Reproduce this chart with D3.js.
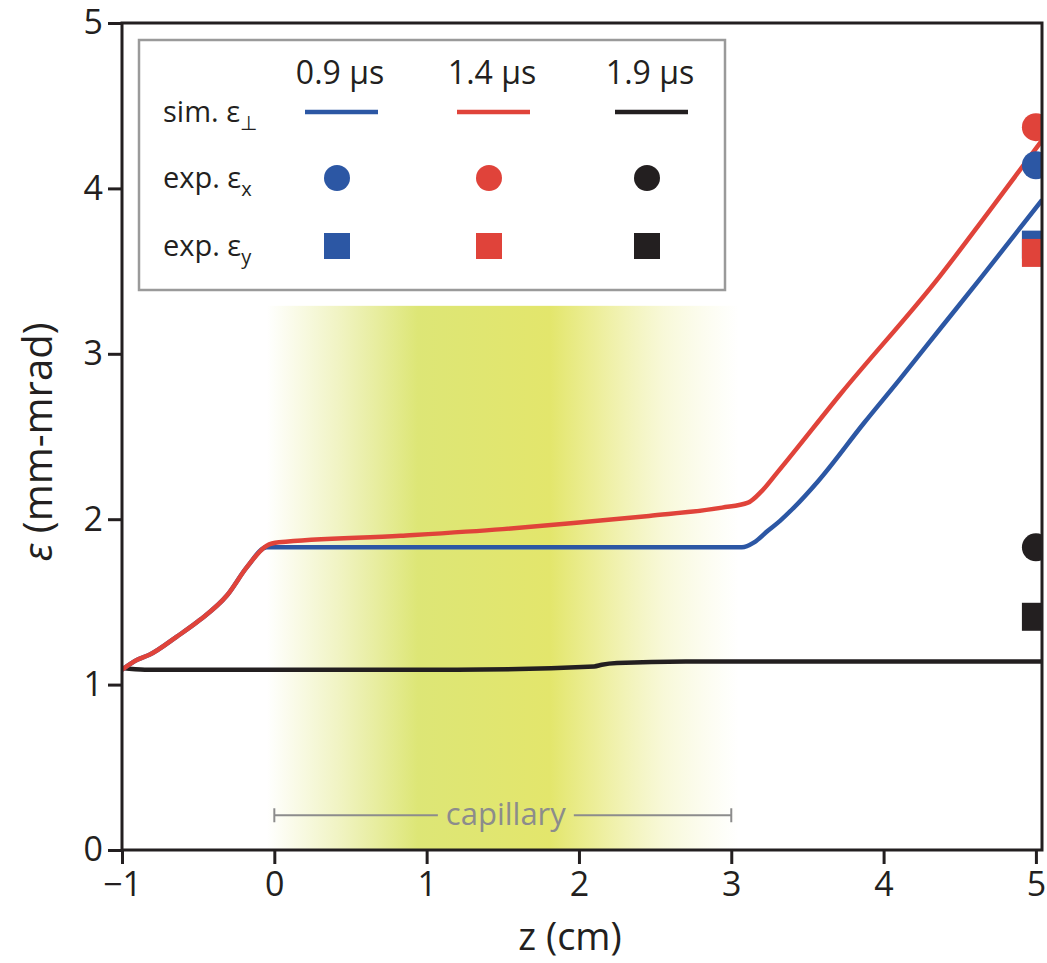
<!DOCTYPE html>
<html>
<head>
<meta charset="utf-8">
<script src="https://cdn.jsdelivr.net/npm/d3@7"></script>
<style>
    body { margin: 0; background: #fff; }
    text { font-family: "Open Sans", "Noto Sans", sans-serif; fill: #231f20; }
</style>
</head>
<body>
<svg class="chart"></svg>
<script>
// simulated emittance, one curve per delay
var delays = ["0.9 \u03bcs", "1.4 \u03bcs", "1.9 \u03bcs"];
var seriesColors = ["#2c57a4", "#e0433a", "#231f20"];

var zBlue = [-1, -0.9, -0.82, -0.64, -0.49, -0.31, -0.18, -0.05, 0.1, 1, 2, 3.07, 3.15, 3.24, 3.32, 3.4, 3.57, 3.87, 4.11, 4.37, 4.64, 5.04];
var epsBlue = [1.09, 1.15, 1.18, 1.29, 1.39, 1.54, 1.71, 1.83, 1.83, 1.83, 1.83, 1.83, 1.86, 1.93, 1.99, 2.06, 2.23, 2.58, 2.85, 3.15, 3.46, 3.93];

var zRed = [-1, -0.9, -0.82, -0.64, -0.49, -0.31, -0.18, -0.05, 0.03, 0.83, 1.5, 2.0, 2.46, 2.94, 3.11, 3.2, 3.3, 3.72, 4.37, 4.7, 5.04];
var epsRed = [1.09, 1.15, 1.18, 1.29, 1.39, 1.54, 1.71, 1.84, 1.86, 1.9, 1.94, 1.98, 2.02, 2.07, 2.1, 2.17, 2.28, 2.76, 3.47, 3.87, 4.29];

var zBlack = [-1, -0.85, -0.5, 1.2, 2.1, 2.15, 2.25, 2.7, 5.04];
var epsBlack = [1.1, 1.09, 1.09, 1.09, 1.11, 1.12, 1.13, 1.14, 1.14];

// measured values at the screen, z = 5 cm
var expZ = 5;
var expEpsX = [4.14, 4.37, 1.83];
var expEpsY = [3.66, 3.61, 1.41];

var xTicks = [-1, 0, 1, 2, 3, 4, 5];
var yTicks = [0, 1, 2, 3, 4, 5];
var capillaryStart = 0;
var capillaryEnd = 3;

drawChart();

function drawChart() {
    var outerSize = {width: 1047, height: 963};
    var margin = {top: 23, right: 5, bottom: 113, left: 122};
    var innerSize = {width: outerSize.width - margin.left - margin.right,
        height: outerSize.height - margin.top - margin.bottom};

    var svg = d3.select(".chart")
            .attr("width", outerSize.width)
            .attr("height", outerSize.height);
    var chart = svg.append("g")
            .attr("transform", "translate(" + margin.left + "," + margin.top + ")");

    var xRange = d3.scaleLinear()
            .domain([-1, 5.04])
            .range([0, innerSize.width]);
    var yRange = d3.scaleLinear()
            .domain([0, 5])
            .range([innerSize.height, 0]);

    var defs = svg.append("defs");
    defs.append("clipPath")
            .attr("id", "plotClip")
            .append("rect")
            .attr("width", innerSize.width)
            .attr("height", innerSize.height);

    // yellow band behind the capillary
    var grad = defs.append("linearGradient")
            .attr("id", "capGlow")
            .attr("x1", "0").attr("x2", "1").attr("y1", "0").attr("y2", "0");
    var glowStops = [[0, "#dfe67c", 0], [0.15, "#dfe67c", 0.45], [0.32, "#dde676", 1],
        [0.6, "#e3e66c", 1], [0.7, "#e5e770", 0.7], [0.84, "#e8ea85", 0.32], [1, "#eef0a0", 0]];
    grad.selectAll("stop")
            .data(glowStops)
            .enter().append("stop")
            .attr("offset", function (d) { return d[0]; })
            .attr("stop-color", function (d) { return d[1]; })
            .attr("stop-opacity", function (d) { return d[2]; });
    chart.append("rect")
            .attr("x", xRange(capillaryStart - 0.05))
            .attr("width", xRange(capillaryEnd + 0.05) - xRange(capillaryStart - 0.05))
            .attr("y", yRange(3.29))
            .attr("height", innerSize.height - yRange(3.29))
            .attr("fill", "url(#capGlow)");

    // capillary marker
    var capY = yRange(0.21);
    var capColor = "#8c8c8c";
    var capLabel = chart.append("text")
            .attr("x", xRange(1.52))
            .attr("y", capY)
            .attr("dy", "0.3em")
            .style("text-anchor", "middle")
            .style("font-size", "31px")
            .style("fill", capColor)
            .text("capillary");
    var labelWidth = capLabel.node().getComputedTextLength();
    var gapLeft = xRange(1.52) - labelWidth / 2 - 8;
    var gapRight = xRange(1.52) + labelWidth / 2 + 8;
    chart.append("line")
            .attr("x1", xRange(capillaryStart)).attr("x2", gapLeft)
            .attr("y1", capY).attr("y2", capY)
            .attr("stroke", capColor).attr("stroke-width", 2);
    chart.append("line")
            .attr("x1", gapRight).attr("x2", xRange(capillaryEnd))
            .attr("y1", capY).attr("y2", capY)
            .attr("stroke", capColor).attr("stroke-width", 2);
    [capillaryStart, capillaryEnd].forEach(function (z) {
        chart.append("line")
                .attr("x1", xRange(z)).attr("x2", xRange(z))
                .attr("y1", capY - 7).attr("y2", capY + 7)
                .attr("stroke", capColor).attr("stroke-width", 2);
    });

    // simulation curves
    var sims = [
        {z: zBlue, eps: epsBlue},
        {z: zRed, eps: epsRed},
        {z: zBlack, eps: epsBlack}
    ];
    var line = d3.line()
            .x(function (d) { return xRange(d[0]); })
            .y(function (d) { return yRange(d[1]); })
            .curve(d3.curveMonotoneX);
    var plot = chart.append("g").attr("clip-path", "url(#plotClip)");
    // black first so blue and red sit on top of it
    [2, 0, 1].forEach(function (i) {
        var pts = sims[i].z.map(function (z, j) { return [z, sims[i].eps[j]]; });
        plot.append("path")
                .attr("d", line(pts))
                .attr("fill", "none")
                .attr("stroke", seriesColors[i])
                .attr("stroke-width", 4.5)
                .attr("stroke-linejoin", "round");
    });

    // experiment points
    var markR = 14;
    for (var i = 0; i < delays.length; i++) {
        plot.append("rect")
                .attr("x", xRange(expZ) - markR)
                .attr("y", yRange(expEpsY[i]) - markR)
                .attr("width", markR * 2)
                .attr("height", markR * 2)
                .attr("fill", seriesColors[i]);
    }
    for (var i = 0; i < delays.length; i++) {
        plot.append("circle")
                .attr("cx", xRange(expZ))
                .attr("cy", yRange(expEpsX[i]))
                .attr("r", markR)
                .attr("fill", seriesColors[i]);
    }

    // axes
    var xAxis = chart.append("g")
            .attr("transform", "translate(0," + innerSize.height + ")")
            .call(d3.axisBottom(xRange).tickValues(xTicks).tickFormat(d3.format("d"))
                    .tickSize(14).tickPadding(8));
    var yAxis = chart.append("g")
            .call(d3.axisLeft(yRange).tickValues(yTicks).tickFormat(d3.format("d"))
                    .tickSize(14).tickPadding(5));
    [xAxis, yAxis].forEach(function (ax) {
        ax.select(".domain").remove();
        ax.selectAll(".tick line").attr("stroke", "#231f20").attr("stroke-width", 3);
        ax.selectAll(".tick text")
                .style("font-size", "34px")
                .style("font-family", "'Open Sans', sans-serif")
                .attr("fill", "#231f20");
    });
    chart.append("rect")
            .attr("width", innerSize.width)
            .attr("height", innerSize.height)
            .attr("fill", "none")
            .attr("stroke", "#231f20")
            .attr("stroke-width", 3);

    chart.append("text")
            .attr("x", innerSize.width / 2 - 12)
            .attr("y", innerSize.height + 100)
            .style("text-anchor", "middle")
            .style("font-size", "38px")
            .text("z (cm)");
    var yLabel = svg.append("text")
            .attr("transform", "translate(52," + 442 + ") rotate(-90)")
            .style("text-anchor", "middle")
            .style("font-size", "40px");
    yLabel.append("tspan").style("font-style", "italic").text("\u03b5");
    yLabel.append("tspan").text(" (mm-mrad)");

    drawLegend(svg);
}

function drawLegend(svg) {
    var box = {x: 139, y: 40, width: 586, height: 250};
    var colX = [340, 492, 650];
    var rowY = {head: 84, sim: 112, expX: 178, expY: 246};
    var legend = svg.append("g");
    legend.append("rect")
            .attr("x", box.x).attr("y", box.y)
            .attr("width", box.width).attr("height", box.height)
            .attr("fill", "#fff")
            .attr("stroke", "#9a9a9a")
            .attr("stroke-width", 2.5);

    var rows = [["sim. ", "\u22a5", rowY.sim], ["exp. ", "x", rowY.expX], ["exp. ", "y", rowY.expY]];
    rows.forEach(function (r) {
        var t = legend.append("text")
                .attr("x", 163)
                .attr("y", r[2])
                .attr("dy", "0.35em")
                .style("font-size", "29px");
        t.append("tspan").text(r[0] + "\u03b5");
        t.append("tspan")
                .attr("dy", "0.4em")
                .style("font-size", "20px")
                .text(r[1]);
    });

    for (var i = 0; i < delays.length; i++) {
        legend.append("text")
                .attr("x", colX[i])
                .attr("y", rowY.head)
                .style("text-anchor", "middle")
                .style("font-size", "32px")
                .text(delays[i]);
        legend.append("line")
                .attr("x1", colX[i] - 35).attr("x2", colX[i] + 38)
                .attr("y1", rowY.sim).attr("y2", rowY.sim)
                .attr("stroke", seriesColors[i])
                .attr("stroke-width", 4.5);
        legend.append("circle")
                .attr("cx", colX[i] - 3)
                .attr("cy", rowY.expX)
                .attr("r", 13)
                .attr("fill", seriesColors[i]);
        legend.append("rect")
                .attr("x", colX[i] - 16)
                .attr("y", rowY.expY - 13)
                .attr("width", 26)
                .attr("height", 26)
                .attr("fill", seriesColors[i]);
    }
}
</script>
</body>
</html>
